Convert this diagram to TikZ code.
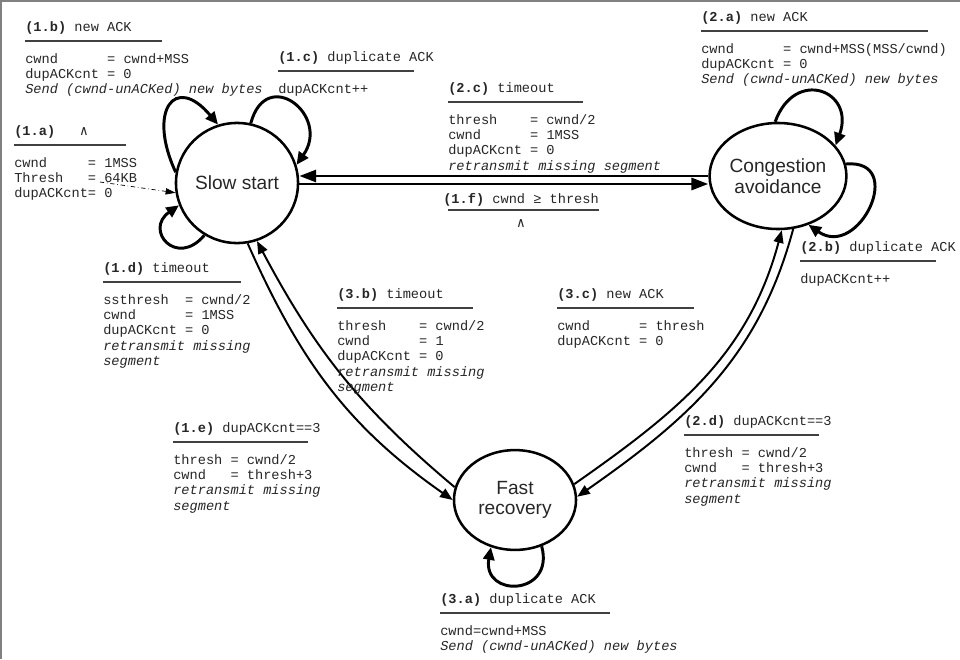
\documentclass[tikz,border=0pt]{standalone}
\usepackage{fontspec}
\setmainfont{Liberation Sans}
\setmonofont{Liberation Mono}
\newfontfamily\symfont{DejaVu Sans Mono}
\usetikzlibrary{arrows.meta, positioning, calc, shapes.geometric}

\tikzset{
    state/.style={ellipse, draw, line width=1.8pt, inner sep=0pt, align=center,
        minimum width=86.8pt, font=\fontsize{13.6}{14.6}\selectfont, text=black!85},
    selfloop/.style={line width=2.1pt, -{Triangle[length=9pt,width=8pt]}, looseness=2.5},
    mainline/.style={line width=2.1pt, -{Triangle[length=12pt,width=8.5pt]}},
    sideline/.style={line width=1.4pt, -{Triangle[length=9pt,width=7pt]}},
    evtext/.style={font=\fontsize{9.7}{10.9}\selectfont\ttfamily, inner sep=0pt,
        align=left, text=black!85},
    evrule/.style={black!75, line width=0.9pt},
}

% event label: name, position, id, event, rule length, actions
\newcommand{\evlabel}[6]{%
    \node[evtext, anchor=base west] (#1h) at (#2) {\textbf{#3} #4};
    \draw[evrule] ($(#1h.base west)+(0,-10)$) -- ++(#5,0);
    \node[evtext, anchor=north west] (#1b) at ($(#1h.base west)+(0,-20.8)$)
        {\rule{0pt}{8pt}#6};
}

\begin{document}
\begin{tikzpicture}[x=0.025cm, y=0.025cm]
    \useasboundingbox (0,0) rectangle (960,-659);
    \draw[gray, line width=1.4pt] (1,-659) -- (1,-1) -- (960,-1);

    % states
    \node[state, minimum height=85.4pt] (ss) at (237,-183) {Slow start};
    \node[state, minimum height=75.4pt] (ca) at (778,-176) {Congestion\\avoidance};
    \node[state, minimum height=71pt] (fr) at (515,-500) {Fast\\recovery};

    \coordinate (toprow) at (0,-176);
    \coordinate (botrow) at (0,-184);
    \coordinate (init) at (100,-182);

    % self loops
    \draw[selfloop] (ss.170) to[out=115, in=130, looseness=2.7] (ss.108);
    \draw[selfloop] (ss.77) to[out=75, in=55] (ss.17);
    \draw[selfloop] (ss.238) to[out=230, in=215, looseness=2.8] (ss.201);
    \draw[selfloop] (ca.93) to[out=70, in=70, looseness=2.3] (ca.28);
    \draw[selfloop] (ca.10) to[out=5, in=-35, looseness=2.2] (ca.-58);
    \draw[selfloop] (fr.-60) to[out=-75, in=-100, looseness=2.6] (fr.-117);

    % transitions
    \draw[mainline] (ca.west |- toprow) -- (ss.east |- toprow);
    \draw[mainline] (ss.east |- botrow) -- (ca.west |- botrow);
    \draw[sideline] (ss.-80) to[out=-66, in=145] (fr.180);
    \draw[sideline] (fr.168) to[out=140, in=-62] (ss.-71);
    \draw[sideline] (fr.15) to[out=35, in=-105] (ca.-86);
    \draw[sideline] (ca.-74) to[out=-105, in=35] (fr.3);
    \draw[dash dot, line width=0.5pt, -{Triangle[length=7pt,width=4.5pt]}] (init) -- (ss.189);

    % labels
    \evlabel{lb}{25,-31}{(1.b)}{new ACK}{137}
        {cwnd~~~~~~=~cwnd+MSS\\dupACKcnt~=~0\\\textit{Send (cwnd-unACKed) new bytes}}
    \evlabel{lc}{278,-61}{(1.c)}{duplicate ACK}{136}{dupACKcnt++}
    \evlabel{la}{14,-135}{(1.a)}{~~{\symfont ∧}}{112}
        {cwnd~~~~~=~1MSS\\Thresh~~~=~64KB\\dupACKcnt=~0}
    \evlabel{ta}{701,-21}{(2.a)}{new ACK}{227}
        {cwnd~~~~~~=~cwnd+MSS(MSS/cwnd)\\dupACKcnt~=~0\\\textit{Send (cwnd-unACKed) new bytes}}
    \evlabel{tc}{448,-92}{(2.c)}{timeout}{135}
        {thresh~~~~=~cwnd/2\\cwnd~~~~~~=~1MSS\\dupACKcnt~=~0\\\textit{retransmit missing segment}}
    \evlabel{tb}{800,-251}{(2.b)}{duplicate ACK}{136}{dupACKcnt++}
    \evlabel{ld}{103,-272}{(1.d)}{timeout}{138}
        {ssthresh~~=~cwnd/2\\cwnd~~~~~~=~1MSS\\dupACKcnt~=~0\\\textit{retransmit missing}\\\textit{segment}}
    \evlabel{rb}{337,-298}{(3.b)}{timeout}{136}
        {thresh~~~~=~cwnd/2\\cwnd~~~~~~=~1\\dupACKcnt~=~0\\\textit{retransmit missing}\\\textit{segment}}
    \evlabel{rc}{557,-298}{(3.c)}{new ACK}{137}
        {cwnd~~~~~~=~thresh\\dupACKcnt~=~0}
    \evlabel{le}{173,-432}{(1.e)}{dupACKcnt==3}{135}
        {thresh~=~cwnd/2\\cwnd~~~=~thresh+3\\\textit{retransmit missing}\\\textit{segment}}
    \evlabel{td}{684,-425}{(2.d)}{dupACKcnt==3}{135}
        {thresh~=~cwnd/2\\cwnd~~~=~thresh+3\\\textit{retransmit missing}\\\textit{segment}}
    \evlabel{ra}{440,-603}{(3.a)}{duplicate ACK}{170}
        {cwnd=cwnd+MSS\\\textit{Send (cwnd-unACKed) new bytes}}

    % (1.f) has a short guard line
    \node[evtext, anchor=base west] (lfh) at (443,-203) {\textbf{(1.f)} cwnd ≥ thresh};
    \draw[evrule] ($(lfh.base west)+(5,-7)$) -- ++(151,0);
    \node[evtext] (lfb) at (521,-224) {{\symfont ∧}};
\end{tikzpicture}
\end{document}
